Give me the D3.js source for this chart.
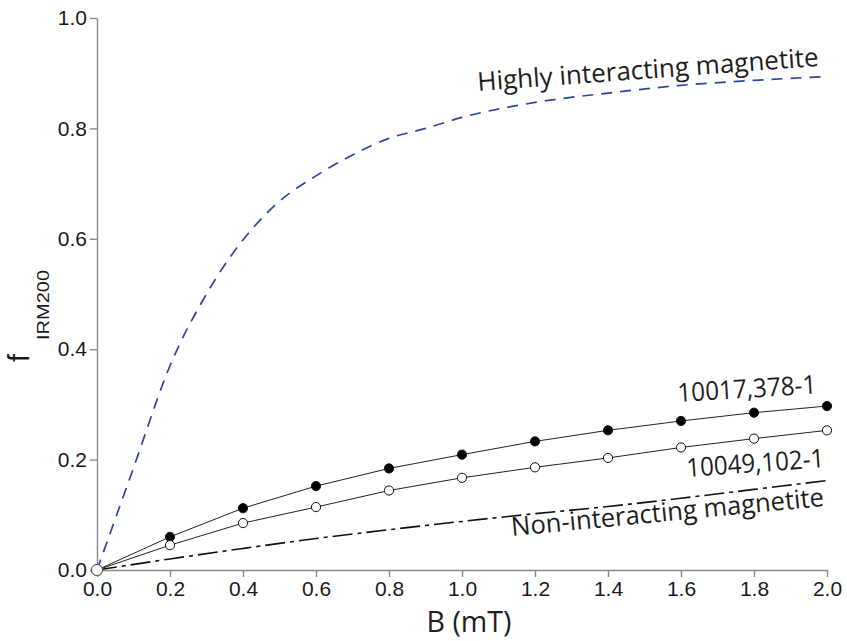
<!DOCTYPE html>
<html>
<head>
<meta charset="utf-8">
<script src="https://cdn.jsdelivr.net/npm/d3@7"></script>
<style>
    body { margin: 0; background: #fff; }
    .axis path, .axis line { stroke: #8a8a8a; stroke-width: 1.4; }
    .axis text { font-family: "Liberation Sans", Arial, sans-serif; font-size: 21px; fill: #1a1a1a; }
    .note { font-family: "Open Sans", "Noto Sans", sans-serif; fill: #1e1e1e; }
</style>
</head>
<body>
<div id="chart"></div>
<script>
"use strict"

// field steps (mT) and measured fractions
const bSteps = [0, 0.2, 0.4, 0.6, 0.8, 1.0, 1.2, 1.4, 1.6, 1.8, 2.0]
const sample378 = [0, 0.060, 0.112, 0.152, 0.184, 0.209, 0.233, 0.253, 0.270, 0.285, 0.297]
const sample102 = [0, 0.045, 0.085, 0.114, 0.144, 0.167, 0.186, 0.203, 0.222, 0.238, 0.253]

// model curves
const highB = [0, 0.1, 0.2, 0.3, 0.4, 0.5, 0.6, 0.7, 0.8, 0.9, 1.0, 1.2, 1.4, 1.6, 1.8, 2.0]
const highF = [0, 0.185, 0.37, 0.50, 0.598, 0.668, 0.714, 0.752, 0.782, 0.80, 0.82, 0.847, 0.864, 0.878, 0.887, 0.894]
const nonB = bSteps
const nonF = [0, 0.02, 0.039, 0.057, 0.073, 0.088, 0.102, 0.115, 0.130, 0.146, 0.162]

// ticks
const xTicks = [0, 0.2, 0.4, 0.6, 0.8, 1.0, 1.2, 1.4, 1.6, 1.8, 2.0]
const yTicks = [0, 0.2, 0.4, 0.6, 0.8, 1.0]

const irmChart = (function() {

    function draw(id, opts = { w: 847, h: 641 }) {
        let chart = Object.assign({
            frame: { l: 97, r: 827, t: 18, b: 570 },
        }, opts)

        const pairs = (xs, ys) => xs.map((x, i) => ({ x: x, y: ys[i] }))

        const x = d3.scaleLinear().domain([0, 2]).range([chart.frame.l, chart.frame.r])
        const y = d3.scaleLinear().domain([0, 1]).range([chart.frame.b, chart.frame.t])

        let svg = d3.select(id)
                    .append("svg")
                        .attr("width", chart.w)
                        .attr("height", chart.h)
                        .attr("viewBox", `0 0 ${ chart.w } ${ chart.h }`)

        // axes
        svg.append("g")
            .attr("class", "axis x-axis")
            .attr("transform", `translate(0, ${ chart.frame.b })`)
            .call(d3.axisBottom(x).tickValues(xTicks).tickFormat(d3.format(".1f"))
                    .tickSize(7).tickPadding(4).tickSizeOuter(0))

        svg.append("g")
            .attr("class", "axis y-axis")
            .attr("transform", `translate(${ chart.frame.l }, 0)`)
            .call(d3.axisLeft(y).tickValues(yTicks).tickFormat(d3.format(".1f"))
                    .tickSize(7).tickPadding(3).tickSizeOuter(0))

        const line = d3.line().x(d => x(d.x)).y(d => y(d.y))

        // highly interacting (blue dashed)
        svg.append("path")
            .datum(pairs(highB, highF))
            .attr("fill", "none")
            .attr("stroke", "#2c479e")
            .attr("stroke-width", 1.7)
            .attr("stroke-dasharray", "11,8")
            .attr("d", line.curve(d3.curveMonotoneX))

        // non-interacting (dash-dot)
        svg.append("path")
            .datum(pairs(nonB, nonF))
            .attr("fill", "none")
            .attr("stroke", "#111")
            .attr("stroke-width", 1.6)
            .attr("stroke-dasharray", "20,5,4,5")
            .attr("d", line.curve(d3.curveMonotoneX))

        // samples
        const samples = [
            { data: pairs(bSteps, sample378), fill: "#000" },
            { data: pairs(bSteps, sample102), fill: "#fff" },
        ]
        samples.forEach(s => {
            svg.append("path")
                .datum(s.data)
                .attr("fill", "none")
                .attr("stroke", "#222")
                .attr("stroke-width", 1)
                .attr("d", line.curve(d3.curveLinear))
            svg.selectAll(null)
                .data(s.data)
                .enter().append("circle")
                    .attr("cx", d => x(d.x))
                    .attr("cy", d => y(d.y))
                    .attr("r", d => d.x === 0 ? 5.5 : 4.6)
                    .attr("fill", d => d.x === 0 ? "#fff" : s.fill)
                    .attr("stroke", d => d.x === 0 ? "#555" : "#111")
                    .attr("stroke-width", 1)
        })

        // annotations, slanted along the curves
        const notes = [
            { text: "Highly interacting magnetite", x: 478, y: 91, a: -4.2, len: 342, size: 26 },
            { text: "10017,378-1", x: 678, y: 402, a: -3.5, len: 139, size: 26 },
            { text: "10049,102-1", x: 687, y: 477, a: -4.1, len: 138, size: 26 },
            { text: "Non-interacting magnetite", x: 512, y: 536, a: -5.5, len: 314, size: 26 },
        ]
        svg.selectAll(".note")
            .data(notes)
            .enter().append("text")
                .attr("class", "note")
                .attr("font-size", d => d.size)
                .attr("textLength", d => d.len)
                .attr("lengthAdjust", "spacingAndGlyphs")
                .attr("transform", d => `translate(${ d.x }, ${ d.y }) rotate(${ d.a })`)
                .text(d => d.text)

        // x-axis label
        svg.append("text")
            .attr("class", "note")
            .attr("font-size", 29)
            .attr("text-anchor", "middle")
            .attr("textLength", 85)
            .attr("lengthAdjust", "spacingAndGlyphs")
            .attr("transform", `translate(469, 632)`)
            .text("B (mT)")

        // y-axis label f_IRM200
        const yl = svg.append("g")
            .attr("transform", `translate(29, 362) rotate(-90)`)
        yl.append("text")
            .attr("font-family", "Liberation Sans, Arial, sans-serif")
            .attr("font-size", 29)
            .attr("fill", "#1a1a1a")
            .text("f")
        yl.append("text")
            .attr("font-family", "Liberation Sans, Arial, sans-serif")
            .attr("font-size", 17)
            .attr("fill", "#1a1a1a")
            .attr("x", 22)
            .attr("y", 20)
            .attr("textLength", 70)
            .attr("lengthAdjust", "spacingAndGlyphs")
            .text("IRM200")
    }

    return { draw: draw }

}())

irmChart.draw("#chart")
</script>
</body>
</html>
